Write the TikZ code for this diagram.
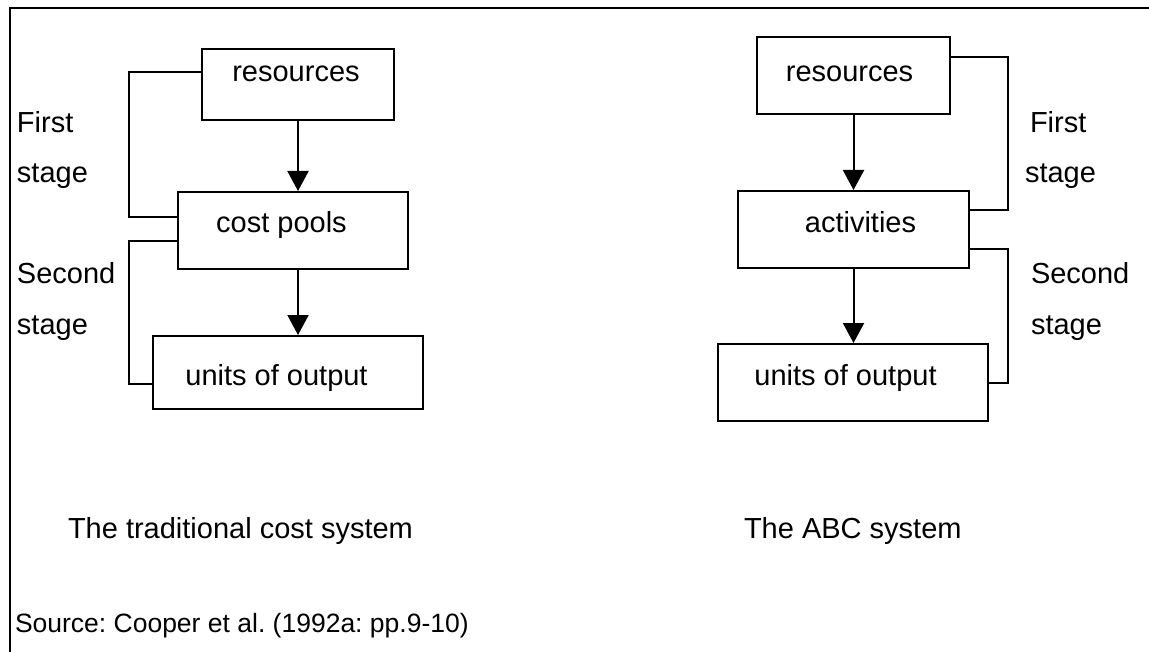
\documentclass[tikz,border=0pt]{standalone}
\usepackage{fontspec}
\setmainfont{Liberation Sans}
\usetikzlibrary{arrows.meta}
\frenchspacing
\begin{document}
\begin{tikzpicture}[
	x=0.5pt, y=-0.5pt, line width=1pt,
	font=\fontsize{14.5}{17}\selectfont,
	casella/.style={draw=black, line width=1pt, inner sep=0pt},
	testo/.style={inner sep=0pt, anchor=base},
	scritta/.style={inner sep=0pt, anchor=base west},
	freccia/.style={-{Triangle[length=10pt, width=10.5pt]}, line width=1pt},
	staffa/.style={line width=1pt, line join=miter}]
	
	\useasboundingbox (0,0) rectangle (1149,652);
	
	%% cornice (solo lati superiore e sinistro)
	\draw[line width=1.2pt] (1149,8) -- (10,8) -- (10,652);
	
	%% sistema tradizionale: caselle
	\node[casella, minimum width=96pt, minimum height=35.5pt] (lres) at (298,84.5) {};
	\node[casella, minimum width=115pt, minimum height=38.5pt] (lpool) at (293,230.5) {};
	\node[casella, minimum width=135pt, minimum height=36.5pt] (lunit) at (288,372.5) {};
	\node[testo] (tlres) at (296,82) {resources};
	\node[testo] (tlpool) at (281.5,233) {cost pools};
	\node[testo] (tlunit) at (276.5,385) {units of output};
	
	%% frecce verticali
	\draw[freccia] (lres.south) -- (lres.south |- lpool.north);
	\draw[freccia] (lres.south |- lpool.south) -- (lres.south |- lunit.north);
	
	%% staffe delle due fasi, a sinistra
	\draw[staffa] ([yshift=6pt]lres.west) -- ++(-36pt,0) |- ([yshift=7pt]lpool.west);
	\draw[staffa] ([yshift=-5pt]lpool.west) -- ++(-24pt,0) |- ([yshift=-5.75pt]lunit.west);
	\node[scritta] (lfirst) at (16,133) {First};
	\node[scritta] (lstage1) at (16,183) {stage};
	\node[scritta] (lsecond) at (16,283) {Second};
	\node[scritta] (lstage2) at (16,334) {stage};
	
	%% sistema ABC: caselle
	\node[casella, minimum width=96.5pt, minimum height=38.5pt] (rres) at (853.5,75.5) {};
	\node[casella, minimum width=115.5pt, minimum height=38.5pt] (ract) at (853.5,229.5) {};
	\node[casella, minimum width=135pt, minimum height=38.5pt] (runit) at (853,382.5) {};
	\node[testo] (trres) at (849.5,82) {resources};
	\node[testo] (tract) at (860.5,233) {activities};
	\node[testo] (trunit) at (845.5,385) {units of output};
	
	\draw[freccia] (rres.south) -- (rres.south |- ract.north);
	\draw[freccia] (ract.south) -- (ract.south |- runit.north);
	
	%% staffe delle due fasi, a destra
	\draw[staffa] ([yshift=9.25pt]rres.east) -- ++(28.5pt,0) |- ([yshift=9.75pt]ract.east);
	\draw[staffa] ([yshift=-9.75pt]ract.east) -- ++(19pt,0) |- (runit.east);
	\node[scritta] (rfirst) at (1029,133) {First};
	\node[scritta] (rstage1) at (1024,183) {stage};
	\node[scritta] (rsecond) at (1030,283) {Second};
	\node[scritta] (rstage2) at (1030,334) {stage};
	
	%% didascalie e fonte
	\node[scritta] (ctrad) at (67,538) {The traditional cost system};
	\node[scritta] (cabc) at (743,538) {The ABC system};
	\node[scritta, font=\fontsize{13.25}{16}\selectfont] (fonte) at (14,632) {Source: Cooper et al. (1992a: pp.9-10)};
	
\end{tikzpicture}
\end{document}
